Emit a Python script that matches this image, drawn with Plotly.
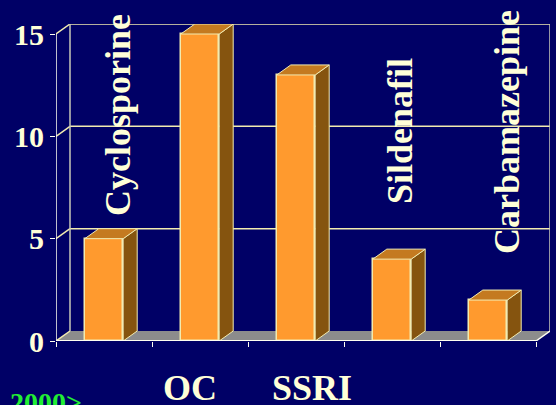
import plotly.graph_objects as go

categories = ["Cyclosporine", "OC", "SSRI", "Sildenafil", "Carbamazepine"]
values = [5, 15, 13, 4, 2]
y_ticks = [0, 5, 10, 15]
footnote = "2000>"

W, H = 556, 405
L, R, T, B = 56, 550, 24, 341
DX = 14 / 96
DY = 10 / 20.45
HALF = 0.2

BG = "#000066"
CREAM = "#F2EBB0"
WHITE = "#FFFFF0"
FRONT = "#FF9A2E"
TOP = "#C47A20"
SIDE = "#85540F"
FLOOR = "#8C8C8C"
TEXT = "#FFFFD8"
SERIF = "Liberation Serif"

x_lo, x_hi = -0.5, len(categories) - 0.5
y_hi = max(y_ticks)

fig = go.Figure()
fig.add_bar(x=list(range(len(values))), y=values, width=2 * HALF,
            marker=dict(color=FRONT, line=dict(color=CREAM, width=1.5)),
            hoverinfo="skip")

for i, v in enumerate(values):
    a, b = i - HALF, i + HALF
    fig.add_scatter(x=[b, b + DX, b + DX, b, b], y=[0, DY, v + DY, v, 0], mode="lines",
                    fill="toself", fillcolor=SIDE, line=dict(color=CREAM, width=1), hoverinfo="skip",
                    cliponaxis=False)
    fig.add_scatter(x=[a, a + DX, b + DX, b, a], y=[v, v + DY, v + DY, v, v], mode="lines",
                    fill="toself", fillcolor=TOP, line=dict(color=CREAM, width=1), hoverinfo="skip",
                    cliponaxis=False)

# front axis lines
fig.add_scatter(x=[x_lo, x_lo], y=[0, y_hi], mode="lines", line=dict(color=WHITE, width=1.5),
                cliponaxis=False, hoverinfo="skip")
fig.add_scatter(x=[x_lo, x_hi], y=[0, 0], mode="lines", line=dict(color=WHITE, width=2),
                cliponaxis=False, hoverinfo="skip")

shapes = [dict(type="path", layer="below", fillcolor=FLOOR, line=dict(width=0),
               path=f"M {x_lo} 0 L {x_lo + DX} {DY} L {x_hi + DX} {DY} L {x_hi} 0 Z")]
for t in y_ticks:
    shapes.append(dict(type="line", layer="below", x0=x_lo, y0=t, x1=x_lo + DX, y1=t + DY,
                       line=dict(color=CREAM, width=1.5)))
    if t:
        shapes.append(dict(type="line", layer="below", x0=x_lo + DX, y0=t + DY, x1=x_hi + DX, y1=t + DY,
                           line=dict(color=CREAM, width=1.5)))
shapes.append(dict(type="line", layer="below", x0=x_lo + DX, y0=DY, x1=x_lo + DX, y1=y_hi + DY,
                   line=dict(color="#C8C8B8", width=1.5)))
shapes.append(dict(type="line", layer="below", x0=x_hi + DX, y0=DY, x1=x_hi + DX, y1=y_hi + DY,
                   line=dict(color="#C8C8B8", width=1.5)))
shapes.append(dict(type="line", layer="below", x0=x_hi, y0=0, x1=x_hi + DX, y1=DY,
                   line=dict(color=WHITE, width=1.5)))


def pl(text, px, py, angle=0, size=36, color=TEXT):
    return dict(text=f"<b>{text}</b>", x=(px - L) / (R - L), y=(B - py) / (B - T),
                xref="paper", yref="paper", showarrow=False, textangle=angle,
                xanchor="center", yanchor="middle",
                font=dict(family=SERIF, size=size, color=color))


annotations = [
    pl(categories[0], 118, 115, angle=-90),
    pl(categories[1], 190, 388),
    pl(categories[2], 312, 388),
    pl(categories[3], 400, 131, angle=-90),
    pl(categories[4], 507, 132, angle=-90),
    pl(footnote, 46, 402, size=28, color="#22EE33"),
]

fig.update_layout(
    width=W, height=H, autosize=False,
    margin=dict(l=L, r=W - R, t=T, b=H - B),
    paper_bgcolor=BG, plot_bgcolor=BG, showlegend=False,
    shapes=shapes, annotations=annotations, bargap=0,
    xaxis=dict(range=[x_lo, x_hi + DX], showgrid=False, zeroline=False, showline=False,
               tickvals=[x_lo + i for i in range(len(categories) + 1)],
               ticktext=[""] * (len(categories) + 1), ticks="outside", ticklen=5,
               tickcolor=WHITE, tickwidth=1),
    yaxis=dict(range=[0, y_hi + DY], showgrid=False, zeroline=False, showline=False,
               tickvals=y_ticks, ticktext=[f"<b>{t}</b>" for t in y_ticks],
               ticks="outside", ticklen=5, tickcolor=WHITE, tickwidth=1,
               ticklabelstandoff=0,
               tickfont=dict(family=SERIF, size=30, color=TEXT)),
)

fig.write_html("out.html", config={"displayModeBar": False},
               post_script="document.body.style.margin='0';document.body.style.overflow='hidden';"
                           f"document.body.style.background='{BG}';")
